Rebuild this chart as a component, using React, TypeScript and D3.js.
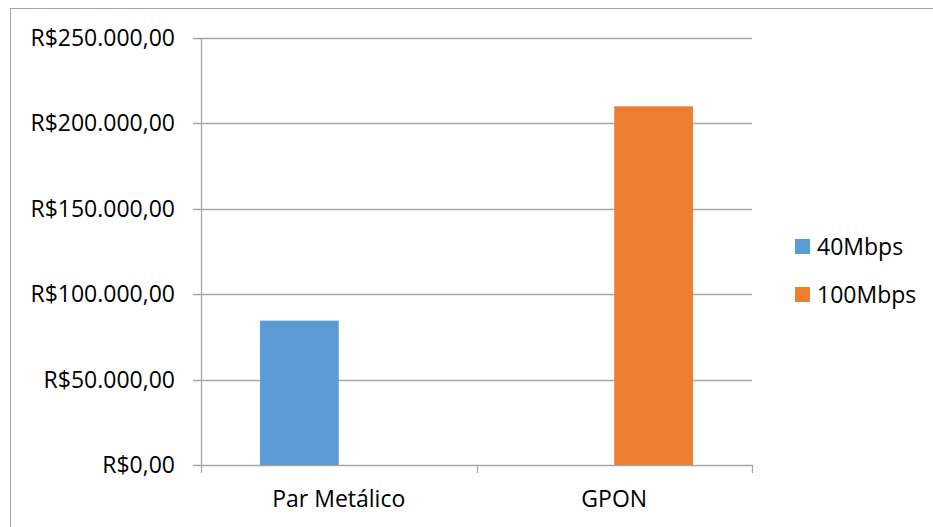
import React from "react";
import * as d3 from "d3";

const categories = ["Par Metálico", "GPON"];
const seriesNames = ["40Mbps", "100Mbps"];
const values40 = [84500, null];
const values100 = [null, 210000];
const yTicks = [0, 50000, 100000, 150000, 200000, 250000];
const colors = ["#5B9BD5", "#ED7D31"];

const W = 933;
const H = 527;
const margin = { left: 201, right: 181, top: 38, bottom: 62 };
const font = "'Open Sans', sans-serif";
const fontSize = 23;

const fmt = (v: number) =>
  "R$" + d3.format(",.2f")(v).replace(/,/g, "#").replace(/\./g, ",").replace(/#/g, ".");

export default function App() {
  const x0 = d3
    .scaleBand<string>()
    .domain(categories)
    .range([margin.left, W - margin.right]);
  const x1 = d3
    .scaleBand<string>()
    .domain(seriesNames)
    .range([0, x0.bandwidth()])
    .paddingOuter(0.75)
    .paddingInner(0);
  const y = d3
    .scaleLinear()
    .domain([0, 250000])
    .range([H - margin.bottom, margin.top]);

  const series = [values40, values100];
  const grid = "#A6A6A6";
  const x0Edges = [...categories.map((c) => x0(c)!), W - margin.right];

  return (
    <svg
      width={W}
      height={H}
      style={{ position: "absolute", left: 0, top: 0, background: "#fff" }}
    >
      {/* outer frame */}
      <rect x={10.5} y={8.5} width={W + 20} height={H + 20} fill="none" stroke="#A6A6A6" />
      {/* gridlines and y ticks */}
      {yTicks.map((t) => (
        <g key={t}>
          <line
            x1={margin.left - 8}
            x2={W - margin.right}
            y1={Math.round(y(t)) + 0.5}
            y2={Math.round(y(t)) + 0.5}
            stroke={grid}
            strokeWidth={1.3}
          />
          <text
            x={175}
            y={y(t)}
            dy="0.35em"
            textAnchor="end"
            fontFamily={font}
            fontSize={fontSize}
            fill="#000"
          >
            {fmt(t)}
          </text>
        </g>
      ))}
      {/* y axis line */}
      <line
        x1={margin.left + 0.5}
        x2={margin.left + 0.5}
        y1={margin.top}
        y2={H - margin.bottom}
        stroke={grid}
        strokeWidth={1.3}
      />
      {/* x tick marks */}
      {x0Edges.map((xe, i) => (
        <line
          key={i}
          x1={Math.round(xe) + 0.5}
          x2={Math.round(xe) + 0.5}
          y1={H - margin.bottom}
          y2={H - margin.bottom + 8}
          stroke={grid}
          strokeWidth={1.3}
        />
      ))}
      {/* bars */}
      {series.map((vals, si) =>
        vals.map((v, ci) =>
          v == null ? null : (
            <rect
              key={`${si}-${ci}`}
              x={x0(categories[ci])! + x1(seriesNames[si])!}
              y={y(v)}
              width={x1.bandwidth()}
              height={y(0) - y(v)}
              fill={colors[si]}
            />
          )
        )
      )}
      {/* category labels */}
      {categories.map((c) => (
        <text
          key={c}
          x={x0(c)! + x0.bandwidth() / 2}
          y={507}
          textAnchor="middle"
          fontFamily={font}
          fontSize={fontSize}
          fill="#000"
        >
          {c}
        </text>
      ))}
      {/* legend */}
      {seriesNames.map((s, i) => (
        <g key={s} transform={`translate(795, ${239 + i * 48})`}>
          <rect width={15} height={15} fill={colors[i]} />
          <text x={22} y={7.5} dy="0.35em" fontFamily={font} fontSize={fontSize} fill="#000">
            {s}
          </text>
        </g>
      ))}
    </svg>
  );
}
